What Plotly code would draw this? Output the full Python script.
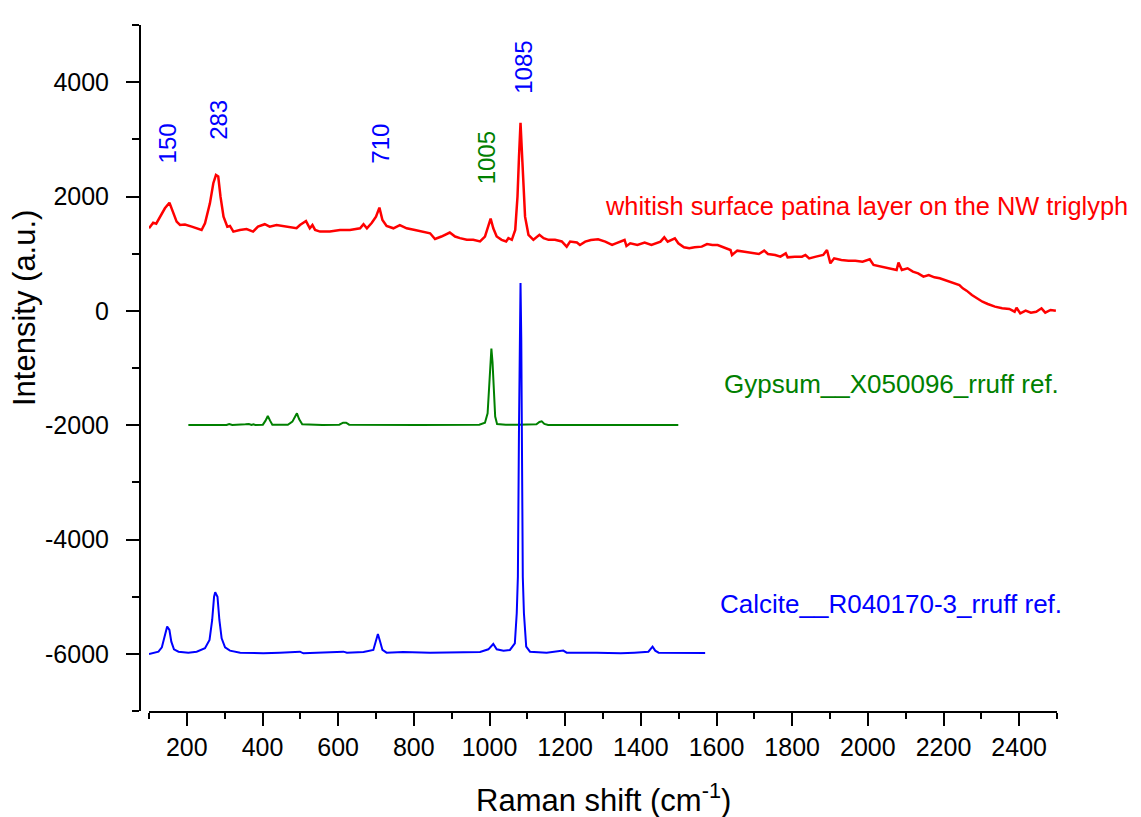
import plotly.graph_objects as go

# ---------------- data ----------------
patina_x = [100, 111, 119, 133, 142, 154, 162, 173, 182, 195, 213, 239, 248, 261, 270, 277, 283, 289, 297,
            307, 314, 323, 340, 358, 375, 388, 406, 419, 437, 455, 472, 490, 499, 515, 525, 532, 539, 552,
            578, 605, 631, 658, 667, 676, 689, 700, 709, 717, 728, 746, 763, 781, 803, 821, 843, 856, 873,
            895, 909, 922, 940, 957, 975, 988, 997, 1003, 1010, 1019, 1032, 1044, 1050, 1059, 1068, 1074,
            1078, 1082, 1087, 1091, 1094, 1103, 1116, 1132, 1143, 1156, 1173, 1191, 1204, 1213, 1231,
            1239, 1253, 1268, 1287, 1306, 1324, 1334, 1348, 1357, 1362, 1372, 1391, 1410, 1428, 1443,
            1452, 1462, 1471, 1490, 1499, 1514, 1528, 1542, 1561, 1575, 1589, 1603, 1618, 1637, 1641,
            1655, 1674, 1693, 1712, 1726, 1736, 1755, 1769, 1783, 1788, 1807, 1826, 1835, 1845, 1863,
            1882, 1892, 1901, 1911, 1930, 1949, 1967, 1986, 2005, 2015, 2029, 2043, 2062, 2076, 2081,
            2090, 2105, 2119, 2133, 2147, 2161, 2176, 2190, 2204, 2213, 2228, 2242, 2251, 2261, 2275,
            2289, 2303, 2317, 2336, 2355, 2374, 2388, 2393, 2403, 2417, 2431, 2445, 2459, 2469, 2483, 2497]
patina_y = [1444, 1542, 1525, 1677, 1794, 1892, 1764, 1560, 1502, 1510, 1472, 1414, 1531, 1880, 2232, 2376, 2350,
            1997, 1648, 1472, 1485, 1386, 1415, 1430, 1386, 1472, 1515, 1472, 1500, 1485, 1472, 1444, 1500,
            1570, 1444, 1500, 1415, 1386, 1386, 1415, 1415, 1444, 1515, 1444, 1540, 1648, 1806, 1590, 1485,
            1444, 1500, 1444, 1415, 1386, 1357, 1257, 1300, 1370, 1300, 1271, 1242, 1242, 1213, 1300, 1500,
            1615, 1444, 1300, 1242, 1213, 1271, 1242, 1415, 2000, 2700, 3290, 2600, 2000, 1647, 1330, 1242,
            1330, 1271, 1242, 1242, 1213, 1123, 1213, 1195,
            1152, 1210, 1239, 1251, 1210, 1152, 1181, 1210, 1239, 1134, 1181, 1152, 1193, 1152, 1181,
            1210, 1286, 1210, 1268, 1181, 1111, 1093, 1111, 1123, 1169, 1152, 1152, 1111, 1064, 977,
            1053, 1035, 1018, 994, 1053, 994, 977, 948, 1006, 936, 948, 948, 977, 918, 948,
            977, 1064, 831, 918, 889, 878, 878, 860, 901, 802, 784, 761, 744, 714, 843,
            714, 744, 685, 656, 598, 627, 586, 569, 539, 510, 481, 452, 394, 353, 277,
            219, 160, 120, 73, 44, 32, -15, 55, -44, 3, -32, -15, 44, -32, 15, 3]

gypsum_x = [204, 305, 312, 320, 355, 364, 371, 376, 381, 401, 408, 414, 420, 426, 467, 479, 487, 491, 497,
            505, 558, 603, 613, 621, 629, 710, 811, 973, 988, 995, 999, 1002, 1005, 1008, 1011, 1015, 1020,
            1043, 1074, 1124, 1132, 1138, 1145, 1155, 1317, 1499]
gypsum_y = [-1997, -1997, -1979, -1997, -1985, -1979, -1997, -1985, -1997, -1991, -1921, -1839, -1921, -1991,
            -1994, -1939, -1839, -1793, -1898, -1985, -1997, -1991, -1956, -1956, -1991, -1997, -1997, -1991,
            -1956, -1793, -1350, -900, -660, -900, -1400, -1850, -1979, -1991, -1991, -1985, -1944, -1932,
            -1979, -1997, -1997, -1997]

calcite_x = [100, 111, 125, 134, 142, 148, 154, 159, 166, 178, 204, 226, 248, 260, 267, 272, 275, 281, 286,
             292, 301, 314, 341, 402, 446, 499, 508, 578, 614, 623, 667, 693, 699, 705, 711, 717, 728, 772,
             843, 913, 975, 997, 1010, 1019, 1037, 1054, 1067, 1072, 1075, 1078, 1080, 1082, 1084, 1086,
             1088, 1091, 1097, 1107, 1151, 1195, 1204, 1283, 1347, 1383, 1420, 1431, 1438, 1447, 1493,
             1529, 1570]
calcite_y = [-6002, -5979, -5962, -5886, -5670, -5524, -5583, -5787, -5921, -5962, -5979, -5962, -5903, -5757,
             -5408, -5000, -4924, -5000, -5408, -5728, -5886, -5944, -5979, -5991, -5979, -5962, -5991, -5979,
             -5962, -5979, -5967, -5932, -5787, -5653, -5787, -5932, -5979, -5967, -5979, -5979, -5967, -5921,
             -5828, -5921, -5944, -5932, -5816, -5291, -4650, -2000, -500, 487, -500, -2000, -4650, -5291,
             -5874, -5962, -5979, -5944, -5979, -5979, -5991, -5979, -5962, -5874, -5944, -5979, -5979,
             -5979, -5985]

x_tick_vals = [200, 400, 600, 800, 1000, 1200, 1400, 1600, 1800, 2000, 2200, 2400]
x_tick_text = ["200", "400", "600", "800", "1000", "1200", "1400", "1600", "1800", "2000", "2200", "2400"]
x_minor_vals = [100, 300, 500, 700, 900, 1100, 1300, 1500, 1700, 1900, 2100, 2300, 2500]
y_tick_vals = [-6000, -4000, -2000, 0, 2000, 4000]
y_tick_text = ["-6000", "-4000", "-2000", "0", "2000", "4000"]
y_minor_vals = [-7000, -5000, -3000, -1000, 1000, 3000, 5000]

peak_labels = ["150", "283", "710", "1005", "1085"]
peak_label_x = [150, 282, 711, 993, 1088]
peak_label_y = [2927, 3338, 2927, 2682, 4265]
peak_label_colors = ["#0000FF", "#0000FF", "#0000FF", "#008000", "#0000FF"]

series_names = ["whitish surface patina layer on the NW triglyph",
                "Gypsum__X050096_rruff ref.",
                "Calcite__R040170-3_rruff ref."]
series_label_x = [1300, 1615, 1604]
series_label_y = [1830, -1280, -5120]
series_label_sizes = [25.4, 26, 26]
series_colors = ["#FF0000", "#008000", "#0000FF"]
series_widths = [2.5, 2, 2]

FONT = "Liberation Sans, Arial, sans-serif"

fig = go.Figure()
for xs, ys, c, w in [(patina_x, patina_y, series_colors[0], series_widths[0]),
                     (gypsum_x, gypsum_y, series_colors[1], series_widths[1]),
                     (calcite_x, calcite_y, series_colors[2], series_widths[2])]:
    fig.add_trace(go.Scatter(x=xs, y=ys, mode="lines", line=dict(color=c, width=w),
                             showlegend=False, hoverinfo="skip"))

annotations = []
for t, x, y, c in zip(peak_labels, peak_label_x, peak_label_y, peak_label_colors):
    annotations.append(dict(x=x, y=y, xref="x", yref="y", text=t, showarrow=False, textangle=-90,
                            xanchor="center", yanchor="middle", font=dict(family=FONT, size=24, color=c)))
for t, x, y, c, s in zip(series_names, series_label_x, series_label_y, series_colors, series_label_sizes):
    annotations.append(dict(x=x, y=y, xref="x", yref="y", text=t, showarrow=False,
                            xanchor="left", yanchor="middle", font=dict(family=FONT, size=s, color=c)))

# axis titles
annotations.append(dict(x=(603 - 140) / 917, y=(711 - 798) / 686, xref="paper", yref="paper",
                        text="Raman shift (cm<sup>-1</sup>)", showarrow=False, xanchor="center",
                        yanchor="middle", font=dict(family=FONT, size=31, color="black")))
annotations.append(dict(x=(24 - 140) / 917, y=(711 - 308) / 686, xref="paper", yref="paper",
                        text="Intensity (a.u.)", showarrow=False, textangle=-90, xanchor="center",
                        yanchor="middle", font=dict(family=FONT, size=31, color="black")))

# the page body adds an 8 px offset; figure is sized so the plot area lands where the reference has it
fig.update_layout(
    width=1133, height=809,
    margin=dict(l=132, r=84, t=17, b=106),
    paper_bgcolor="white", plot_bgcolor="white",
    font=dict(family=FONT, size=25, color="black"),
    annotations=annotations,
    xaxis=dict(domain=[9 / 917, 1], range=[100, 2500], tickmode="array", tickvals=x_tick_vals,
               ticktext=x_tick_text, ticks="outside", ticklen=13, tickwidth=2, tickcolor="black",
               showline=True, linewidth=2, linecolor="black", showgrid=False, zeroline=False,
               tickfont=dict(family=FONT, size=25, color="black"),
               minor=dict(tickmode="array", tickvals=x_minor_vals, ticks="outside", ticklen=6,
                          tickwidth=2, tickcolor="black", showgrid=False)),
    yaxis=dict(anchor="free", position=0, range=[-7000, 5000], tickmode="array", tickvals=y_tick_vals,
               ticktext=y_tick_text, ticks="outside", ticklen=13, tickwidth=2, tickcolor="black",
               showline=True, linewidth=2, linecolor="black", showgrid=False, zeroline=False,
               ticklabelstandoff=12,
               tickfont=dict(family=FONT, size=25, color="black"),
               minor=dict(tickmode="array", tickvals=y_minor_vals, ticks="outside", ticklen=7,
                          tickwidth=2, tickcolor="black", showgrid=False)),
)

fig.write_html("out.html")
